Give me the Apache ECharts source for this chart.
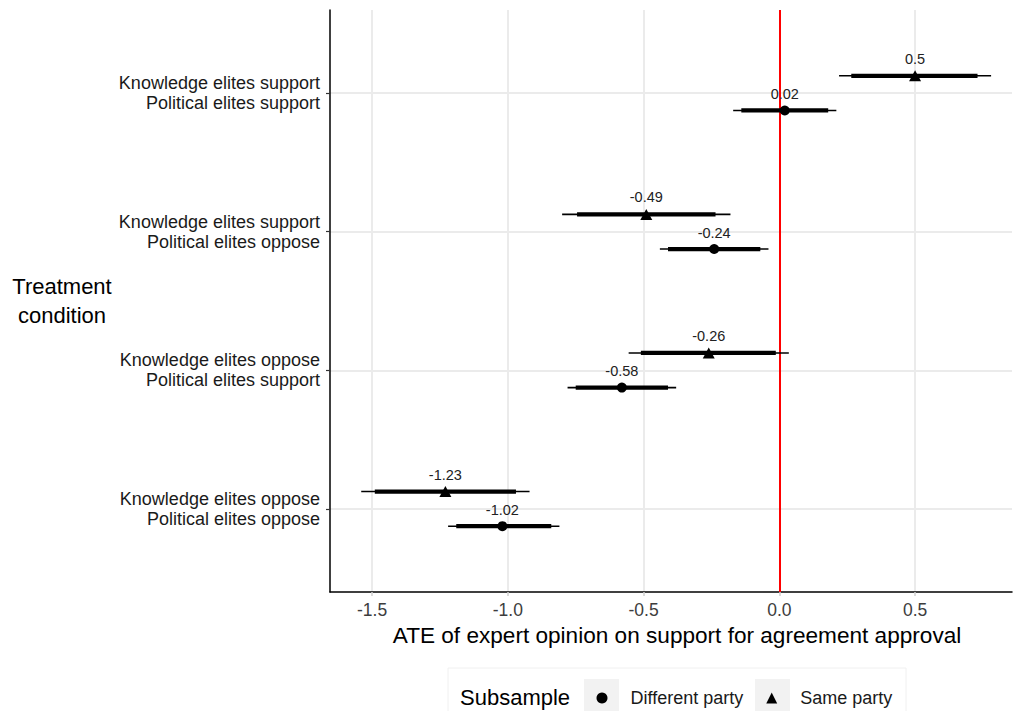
<!DOCTYPE html>
<html><head><meta charset="utf-8">
<script src="https://cdn.jsdelivr.net/npm/echarts@6/dist/echarts.min.js"></script>
<style>html,body{margin:0;padding:0;background:#fff}#c{width:1014px;height:711px}</style>
</head><body><div id="c"></div>
<script>
// ---- data ----
const categories = [
  "Knowledge elites support\nPolitical elites support",
  "Knowledge elites support\nPolitical elites oppose",
  "Knowledge elites oppose\nPolitical elites support",
  "Knowledge elites oppose\nPolitical elites oppose"
];
const xTicks = [-1.5, -1.0, -0.5, 0.0, 0.5];
const seriesNames = ["Different party", "Same party"];
// Different party
const diffEst  = [0.02, -0.24, -0.58, -1.02];
const diffLo95 = [-0.17, -0.44, -0.78, -1.22];
const diffHi95 = [0.21, -0.04, -0.38, -0.81];
const diffLo90 = [-0.14, -0.41, -0.75, -1.19];
const diffHi90 = [0.18, -0.07, -0.41, -0.84];
// Same party
const sameEst  = [0.5, -0.49, -0.26, -1.23];
const sameLo95 = [0.22, -0.80, -0.555, -1.54];
const sameHi95 = [0.78, -0.18, 0.035, -0.92];
const sameLo90 = [0.265, -0.745, -0.51, -1.49];
const sameHi90 = [0.73, -0.235, -0.013, -0.97];

// ---- chart ----
const FONT = '"Liberation Sans", Arial, sans-serif';
const DODGE = 0.125;
const catIdx = categories.map((c, i) => i);
function barData(lo95, hi95, lo90, hi90, off) {
  return lo95.map((v, i) => [v, hi95[i], lo90[i], hi90[i], i + off]);
}
function ptData(est, off) { return est.map((v, i) => [v, i + off]); }
function renderBars(params, api) {
  const y = api.value(4);
  const a = api.coord([api.value(0), y]), b = api.coord([api.value(1), y]);
  const c = api.coord([api.value(2), y]), d = api.coord([api.value(3), y]);
  return { type: 'group', children: [
    { type: 'line', shape: { x1: a[0], y1: a[1], x2: b[0], y2: b[1] }, style: { stroke: '#000', lineWidth: 1.6 } },
    { type: 'line', shape: { x1: c[0], y1: c[1], x2: d[0], y2: d[1] }, style: { stroke: '#000', lineWidth: 4.3 } }
  ]};
}
const labelCfg = { show: true, position: 'top', distance: 4, fontFamily: FONT, fontSize: 14.5, color: '#222',
  textBorderWidth: 0, textBorderColor: 'transparent', textShadowBlur: 0,
  formatter: p => String(p.value[0]) };

const chart = echarts.init(document.getElementById('c'), null, { renderer: 'svg' });
chart.setOption({
  animation: false,
  backgroundColor: '#fff',
  grid: { left: 330, right: 2, top: 10, bottom: 119 },
  xAxis: {
    type: 'value', min: -1.655, max: 0.857,
    name: 'ATE of expert opinion on support for agreement approval',
    nameLocation: 'middle', nameGap: 30,
    nameTextStyle: { fontFamily: FONT, fontSize: 22.6, color: '#000', padding: [0, 0, 0, 12] },
    axisLine: { show: true, onZero: false, lineStyle: { color: '#000', width: 1.5 } },
    axisTick: { show: true, customValues: xTicks, length: 4, lineStyle: { color: '#cfcfcf', width: 1.5 } },
    axisLabel: { customValues: xTicks, formatter: v => Number(v).toFixed(1), fontFamily: FONT, fontSize: 17.5, color: '#3d3d3d', margin: 9 },
    splitLine: { show: false }
  },
  yAxis: {
    type: 'value', inverse: true, min: -0.6, max: 3.6,
    name: 'Treatment\ncondition', nameLocation: 'middle', nameRotate: 0, nameGap: 268,
    nameTextStyle: { fontFamily: FONT, fontSize: 22, color: '#000', align: 'center', lineHeight: 29 },
    axisLine: { show: true, onZero: false, lineStyle: { color: '#000', width: 1.5 } },
    axisTick: { show: true, customValues: catIdx, length: 4, lineStyle: { color: '#333', width: 1.2 } },
    axisLabel: { customValues: catIdx, formatter: v => categories[Math.round(v)], fontFamily: FONT, fontSize: 18,
      lineHeight: 20, color: '#1a1a1a', margin: 10, align: 'right' },
    splitLine: { show: false }
  },
  legend: {
    data: [{ name: seriesNames[0], icon: 'circle' }, { name: seriesNames[1], icon: 'triangle' }],
    left: 596.5, top: 689, padding: 0, itemWidth: 11, itemHeight: 11, itemGap: 23,
    itemStyle: { color: '#000' },
    textStyle: { fontFamily: FONT, fontSize: 18, color: '#1a1a1a', padding: [0, 0, 0, 18] },
    selectedMode: false
  },
  graphic: [
    { type: 'rect', z: -10, shape: { x: 448, y: 668, width: 458, height: 60 }, style: { fill: '#fff', stroke: '#f0f0f0', lineWidth: 1 } },
    { type: 'rect', z: -9, shape: { x: 584, y: 679, width: 35, height: 40 }, style: { fill: '#f2f2f2' } },
    { type: 'rect', z: -9, shape: { x: 755, y: 679, width: 35, height: 40 }, style: { fill: '#f2f2f2' } },
    { type: 'text', z: 5, style: { x: 460, y: 697, text: 'Subsample', fontFamily: FONT, fontSize: 22, fill: '#000', verticalAlign: 'middle', align: 'left' } }
  ],
  series: [
    { type: 'line', name: 'gridlines', data: [], silent: true, z: 0,
      markLine: { z: 0, silent: true, symbol: 'none', animation: false, label: { show: false },
        lineStyle: { color: '#ebebeb', width: 2, type: 'solid' },
        data: xTicks.map(v => ({ xAxis: v })).concat(catIdx.map(v => ({ yAxis: v }))) } },
    { type: 'line', name: 'zero', data: [], silent: true, z: 1,
      markLine: { z: 1, silent: true, symbol: 'none', animation: false, label: { show: false },
        lineStyle: { color: '#ff0000', width: 2, type: 'solid' }, data: [{ xAxis: 0 }] } },
    { type: 'custom', name: seriesNames[0] + ' CI', renderItem: renderBars, z: 3,
      encode: { x: [0, 1, 2, 3], y: 4 }, data: barData(diffLo95, diffHi95, diffLo90, diffHi90, DODGE) },
    { type: 'custom', name: seriesNames[1] + ' CI', renderItem: renderBars, z: 3,
      encode: { x: [0, 1, 2, 3], y: 4 }, data: barData(sameLo95, sameHi95, sameLo90, sameHi90, -DODGE) },
    { type: 'scatter', name: seriesNames[0], symbol: 'circle', symbolSize: 10, z: 4,
      itemStyle: { color: '#000', opacity: 1 }, label: labelCfg, data: ptData(diffEst, DODGE) },
    { type: 'scatter', name: seriesNames[1], symbol: 'triangle', symbolSize: [12, 11], z: 4,
      itemStyle: { color: '#000', opacity: 1 }, label: labelCfg, data: ptData(sameEst, -DODGE) }
  ]
});
</script></body></html>
